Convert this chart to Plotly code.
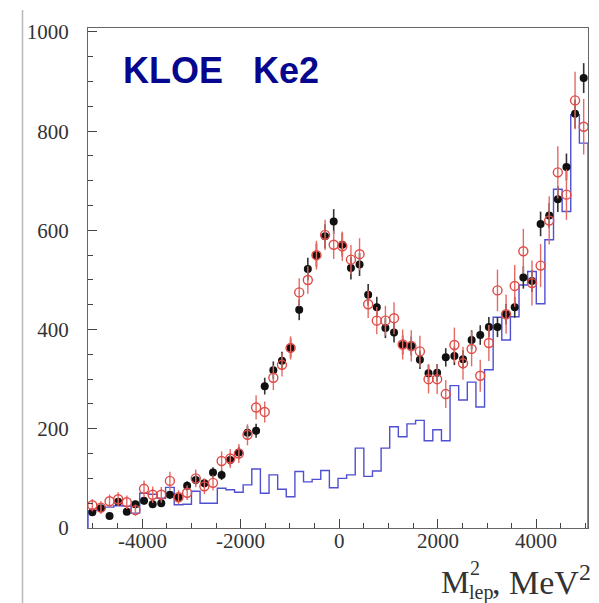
import numpy as np
import plotly.graph_objects as go

# Binning of M^2_lep (MeV^2)
x_lo, x_hi, n_bins = -5100, 5050, 58

# Data: black filled points
data_counts = [32, 40, 24, 53, 33, 48, 55, 48, 50, 67,
               62, 85, 97, 90, 112, 107, 137, 152, 192, 196,
               286, 318, 337, 363, 440, 522, 550, 588, 618, 571,
               524, 531, 470, 445, 403, 394, 369, 367, 339, 312,
               313, 344, 347, 340, 379, 389, 405, 405, 431, 445,
               505, 498, 613, 630, 663, 728, 835, 907]

# Fit / simulation: red open circles
fit_counts = [46, 41, 54, 58, 52, 36, 79, 67, 67, 95,
              62, 71, 100, 84, 91, 135, 140, 150, 188, 243,
              234, 303, 329, 363, 475, 500, 550, 591, 571, 568,
              541, 552, 451, 418, 418, 423, 370, 367, 356, 300,
              300, 270, 369, 332, 361, 307, 373, 479, 431, 488,
              558, 494, 529, 620, 717, 672, 862, 809]

# Background: blue histogram
bkg_counts = [35, 40, 42, 45, 44, 30, 70, 68, 60, 82,
              47, 48, 74, 50, 50, 80, 77, 72, 87, 119,
              70, 107, 78, 63, 114, 93, 98, 116, 81, 100,
              107, 161, 104, 115, 161, 204, 184, 210, 217, 176,
              198, 176, 287, 258, 294, 244, 319, 425, 379, 426,
              490, 517, 452, 581, 683, 638, 833, 776]

x_tickvals = [-4000, -2000, 0, 2000, 4000]
x_ticktext = ["-4000", "-2000", "0", "2000", "4000"]
y_tickvals = [0, 200, 400, 600, 800, 1000]
y_ticktext = ["0", "200", "400", "600", "800", "1000"]

edges = np.linspace(x_lo, x_hi, n_bins + 1)
centers = 0.5 * (edges[:-1] + edges[1:])
data = np.array(data_counts, float)
fit = np.array(fit_counts, float)
bkg = np.array(bkg_counts, float)

fig = go.Figure()

# background histogram as a closed step outline
hx = np.concatenate([[edges[0]], edges])
hy = np.concatenate([[0.0], bkg, [0.0]])
fig.add_trace(go.Scatter(
    x=hx, y=hy, mode="lines", line=dict(color="#4f4fd2", width=1.4, shape="hv"),
    hoverinfo="skip", showlegend=False))

fig.add_trace(go.Scatter(
    x=centers, y=data, mode="markers",
    marker=dict(symbol="circle", size=8, color="#111111"),
    error_y=dict(type="data", array=np.sqrt(data), color="#333333",
                 thickness=1.6, width=0),
    showlegend=False))

fig.add_trace(go.Scatter(
    x=centers, y=fit, mode="markers",
    marker=dict(symbol="circle-open", size=9, color="#e04a46",
                line=dict(width=1.4, color="#e04a46")),
    error_y=dict(type="data", array=np.sqrt(fit + 3 * bkg), color="#e46a64",
                 thickness=1.4, width=0),
    showlegend=False))

tick_font = dict(family="Liberation Serif", size=21, color="#333333")

fig.update_xaxes(
    range=[x_lo, x_hi], tickvals=x_tickvals, showticklabels=False,
    ticks="inside", ticklen=9, tickwidth=1.2, tickcolor="#444444",
    minor=dict(dtick=500, tick0=0, ticks="inside", ticklen=5,
               tickwidth=1, tickcolor="#444444"),
    showline=True, linecolor="#666666", linewidth=1.3, mirror=True,
    showgrid=False, zeroline=False)

fig.update_yaxes(
    range=[0, 1008], tickvals=y_tickvals, ticktext=y_ticktext,
    ticks="inside", ticklen=9, tickwidth=1.2, tickcolor="#444444",
    minor=dict(dtick=50, tick0=0, ticks="inside", ticklen=5,
               tickwidth=1, tickcolor="#444444"),
    showline=True, linecolor="#666666", linewidth=1.3, mirror=True,
    showgrid=False, zeroline=False, tickfont=tick_font,
    ticklabelstandoff=14)

W, H = 599, 603
L, R, T, B = 88, 11, 28, 75
pw, ph = W - L - R, H - T - B


def px(x):
    return (x - L) / pw


def py(y):
    return (H - B - y) / ph


serif = "Liberation Serif"
annotations = [
    dict(text="<b>KLOE\u00a0\u00a0\u00a0Ke2</b>", x=px(121), y=py(71),
         xanchor="left", yanchor="middle", showarrow=False,
         font=dict(family="Liberation Sans", size=36, color="#06068f"),
         xref="paper", yref="paper"),
    dict(text="M", x=px(439), y=py(582), xanchor="left", yanchor="middle",
         showarrow=False, font=dict(family=serif, size=32, color="#333333"),
         xref="paper", yref="paper"),
    dict(text="2", x=px(468), y=py(568), xanchor="left", yanchor="middle",
         showarrow=False, font=dict(family=serif, size=20, color="#333333"),
         xref="paper", yref="paper"),
    dict(text="lep", x=px(467), y=py(592), xanchor="left", yanchor="middle",
         showarrow=False, font=dict(family=serif, size=20, color="#333333"),
         xref="paper", yref="paper"),
    dict(text=", MeV<sup>2</sup>", x=px(490), y=py(580), xanchor="left",
         yanchor="middle", showarrow=False,
         font=dict(family=serif, size=34, color="#333333"),
         xref="paper", yref="paper"),
]

# x tick labels, placed just under the axis line
for v, t in zip(x_tickvals, x_ticktext):
    annotations.append(dict(
        text=t, x=v, xref="x", y=py(541), yref="paper",
        xanchor="center", yanchor="middle", showarrow=False,
        font=tick_font))

fig.update_layout(
    width=W, height=H, margin=dict(l=L, r=R, t=T, b=B, pad=0),
    paper_bgcolor="white", plot_bgcolor="white",
    annotations=annotations,
    shapes=[dict(type="line", xref="paper", yref="paper",
                 x0=px(22.5), x1=px(22.5), y0=py(10), y1=py(603),
                 line=dict(color="#b8b8b8", width=1.5))],
)

fig.write_html("out.html")
